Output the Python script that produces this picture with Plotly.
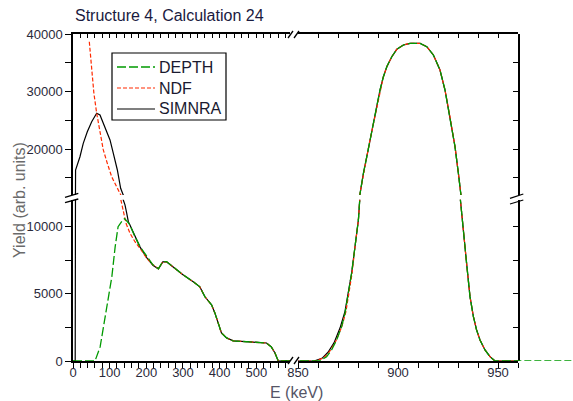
import plotly.graph_objects as go

# ---------------- data ----------------
DEPTH_E = [0, 60, 74, 87, 95, 106, 115, 123, 136, 141, 155, 169, 183, 201, 218, 233, 245, 255, 273, 300,
           328, 346, 360, 378, 387, 396, 405, 419, 437, 482, 528, 541, 551, 560, 592, 850, 861, 864.3, 866.8, 869.3,
           871.8, 873.5, 875.2, 876.8, 878.5, 880.2, 881, 882.7, 884.4, 886, 887.7, 889.4, 891, 892.7, 894.4, 896.9,
           899.4, 902.7, 906, 911, 914.4, 917.7, 921, 923.5, 926, 928.5, 930.2, 931, 931.8, 933, 934.3, 936, 937.7,
           939.3, 941, 943.5, 946, 948.5, 960, 988]
DEPTH_Y = [0, 0, 1050, 3060, 4550, 6270, 8500, 10000, 10500, 10600, 10150, 9250, 8500, 7760, 7160, 6870, 7400, 7400, 7000, 6420,
           5900, 5520, 4780, 4180, 3580, 2840, 2090, 1720, 1500, 1420, 1340, 1050, 600, 0, 0, 0, 0, 320, 820, 1560,
           2550, 3550, 5040, 6530, 8510, 10500, 12300, 15770, 18660, 21570, 24470, 27360, 30260, 32570, 34310, 36050,
           37340, 38090, 38380, 38380, 37790, 36350, 33740, 30260, 25620, 20400, 15770, 12300, 11000, 9500, 7270, 4790, 3300,
           2310, 1560, 820, 320, 0, 0, 0]

NDF_E = [44.5, 51, 57, 64.6, 73.6, 82.7, 93.6, 105.5, 119, 130, 132.8, 139, 144.6, 155.5, 169, 182.8, 201, 218, 233, 245,
         255, 273, 300, 328, 346, 360, 378, 387, 396, 405, 419, 437, 482, 528, 541, 551, 560, 592, 850, 859,
         863, 866, 869, 872, 874, 875.6, 877, 878.5, 880.2, 881, 882.7, 884.4, 886, 887.7, 889.4, 891, 892.7, 894.4,
         896.9, 899.4, 902.7, 906, 911, 914.4, 917.7, 921, 923.5, 926, 928.5, 930.2, 931, 931.8, 933, 934.3, 936,
         937.7, 939.3, 941, 943.5, 946, 948.5, 960]
NDF_Y = [38660, 34310, 29690, 26210, 22730, 19830, 17510, 15180, 13440, 12000, 11740, 11000, 10250, 9510, 8880, 8390, 7650, 7160, 6880, 7380,
         7390, 7010, 6420, 5900, 5520, 4780, 4180, 3580, 2840, 2090, 1720, 1500, 1420, 1340, 1050, 600, 0, 0, 0, 0,
         250, 750, 1500, 2600, 3700, 5050, 6500, 8500, 10500, 12300, 15770, 18660, 21570, 24470, 27360, 30260, 32570, 34310,
         36050, 37340, 38090, 38380, 38380, 37790, 36350, 33740, 30260, 25620, 20400, 15770, 12300, 11000, 9500, 7270, 4790,
         3300, 2310, 1560, 820, 320, 0, 0]

SIM_E = [0, 6, 7, 19, 28, 39, 51, 64.6, 73.6, 87.3, 101, 110, 121, 130, 137, 141.8, 146.5, 151, 155, 169,
         183, 201, 218, 233, 245, 255, 273, 300, 328, 346, 360, 378, 387, 396, 405, 419, 437, 482, 528, 541,
         551, 560, 592, 850, 858, 862, 865, 868, 871, 873.5, 875.2, 876.8, 878.5, 880.2, 881, 882.7, 884.4, 886,
         887.7, 889.4, 891, 892.7, 894.4, 896.9, 899.4, 902.7, 906, 911, 914.4, 917.7, 921, 923.5, 926, 928.5,
         930.2, 931, 931.8, 933, 934.3, 936, 937.7, 939.3, 941, 943.5, 946, 948.5, 960]
SIM_Y = [0, 0, 16350, 18660, 20990, 23010, 24750, 26210, 25910, 23880, 21570, 19250, 16350, 13170, 12000, 11620, 11000, 10370, 10150, 9250,
         8480, 7700, 7120, 6850, 7380, 7390, 7000, 6420, 5900, 5520, 4780, 4180, 3580, 2840, 2090, 1720, 1500, 1420, 1340, 1050,
         600, 0, 0, 0, 0, 200, 650, 1350, 2450, 3700, 5100, 6530, 8510, 10500, 12300, 15770, 18660, 21570,
         24470, 27360, 30260, 32570, 34310, 36050, 37340, 38090, 38380, 38380, 37790, 36350, 33740, 30260, 25620, 20400,
         15770, 12300, 11000, 9500, 7270, 4790, 3300, 2310, 1560, 820, 320, 0, 0]

# tick positions and labels
X_LEFT_TICKS = [0, 20, 40, 60, 80, 100, 120, 140, 160, 180, 200, 220, 240, 260, 280, 300, 320, 340, 360, 380,
                400, 420, 440, 460, 480, 500, 520, 540, 560, 580]
X_LEFT_LABELS = ["0", "", "", "", "", "100", "", "", "", "", "200", "", "", "", "", "300", "", "", "", "",
                 "400", "", "", "", "", "500", "", "", "", ""]
X_RIGHT_TICKS = [850, 860, 870, 880, 890, 900, 910, 920, 930, 940, 950, 960]
X_RIGHT_LABELS = ["850", "", "", "", "", "900", "", "", "", "", "950", ""]
Y_LOW_TICKS = [0, 2500, 5000, 7500, 10000]
Y_LOW_LABELS = ["0", "", "5000", "", "10000"]
Y_UP_TICKS = [15000, 20000, 25000, 30000, 35000, 40000]
Y_UP_LABELS = ["", "20000", "", "30000", "", "40000"]

TITLE = "Structure 4, Calculation 24"
X_LABEL = "E (keV)"
Y_LABEL = "Yield (arb. units)"

# ---------------- geometry helpers ----------------
W, H = 573, 401
def px(x):
    return x / W
def py(y):
    return (H - y) / H

FONT = "Liberation Sans, Arial, sans-serif"
GREEN, RED, BLACK = "#009a00", "#ff2a00", "#000000"

fig = go.Figure()

series = [
    ("SIMNRA", SIM_E, SIM_Y, dict(color=BLACK, width=1.2)),
    ("NDF", NDF_E, NDF_Y, dict(color=RED, width=1.2, dash="4px,2px")),
    ("DEPTH", DEPTH_E, DEPTH_Y, dict(color=GREEN, width=1.3, dash="9px,3px")),
]
panels = [("x", "y"), ("x", "y2"), ("x2", "y"), ("x2", "y2")]
for name, xs, ys, line in series:
    for xa, ya in panels:
        fig.add_trace(go.Scatter(x=xs, y=ys, mode="lines", name=name, line=line,
                                 xaxis=xa, yaxis=ya, showlegend=False, hoverinfo="skip"))
# the DEPTH line continuing past the right frame
fig.add_trace(go.Scatter(x=DEPTH_E, y=DEPTH_Y, mode="lines", name="DEPTH",
                         line=dict(color=GREEN, width=1.3, dash="7px,3px"),
                         xaxis="x5", yaxis="y", showlegend=False, hoverinfo="skip"))
# empty traces so the frame axes (top / right) get their own subplots
for xa, ya in [("x3", "y2"), ("x4", "y2"), ("x2", "y3"), ("x2", "y4")]:
    fig.add_trace(go.Scatter(x=[None], y=[None], xaxis=xa, yaxis=ya, showlegend=False, hoverinfo="skip"))

common = dict(showgrid=False, zeroline=False, showline=True, linecolor="black", linewidth=1.5,
              tickcolor="black", tickwidth=1.2, fixedrange=True, tickmode="array",
              tickfont=dict(family=FONT, size=13, color="#2a2a3a"))

XL = dict(domain=[px(73), px(290)], range=[0, 592])
XR = dict(domain=[px(298), px(518)], range=[850, 960])
YL = dict(domain=[py(361), py(199.8)], range=[0, 12000])
YU = dict(domain=[py(195), py(34)], range=[12000, 40000])

fig.update_layout(
    width=W, height=H,
    margin=dict(l=0, r=0, t=0, b=0, autoexpand=False),
    paper_bgcolor="white", plot_bgcolor="rgba(0,0,0,0)",
    font=dict(family=FONT),
    xaxis=dict(**common, **XL, anchor="y", tickvals=X_LEFT_TICKS, ticktext=X_LEFT_LABELS,
               ticks="outside", ticklen=5, ticklabelstandoff=-6),
    xaxis2=dict(**common, **XR, anchor="y", tickvals=X_RIGHT_TICKS, ticktext=X_RIGHT_LABELS,
                ticks="outside", ticklen=5, ticklabelstandoff=-6),
    xaxis3=dict(**common, **XL, anchor="y2", side="top",
                tickvals=X_LEFT_TICKS, ticks="inside", ticklen=4, showticklabels=False),
    xaxis4=dict(**common, **XR, anchor="y2", side="top",
                tickvals=X_RIGHT_TICKS, ticks="inside", ticklen=4, showticklabels=False),
    xaxis5=dict(domain=[px(518), 1.0], range=[960, 987.5], anchor="y", visible=False, fixedrange=True),
    yaxis=dict(**common, **YL, anchor="x", tickvals=Y_LOW_TICKS, ticktext=Y_LOW_LABELS,
               ticks="outside", ticklen=6),
    yaxis2=dict(**common, **YU, anchor="x", tickvals=Y_UP_TICKS, ticktext=Y_UP_LABELS,
                ticks="outside", ticklen=6),
    yaxis3=dict(**common, **YL, anchor="x2", side="right",
                tickvals=Y_LOW_TICKS, ticks="inside", ticklen=5, showticklabels=False),
    yaxis4=dict(**common, **YU, anchor="x2", side="right",
                tickvals=Y_UP_TICKS, ticks="inside", ticklen=5, showticklabels=False),
    showlegend=False,
    hovermode=False,
)

annots = [
    dict(text=TITLE, x=px(73), y=py(16), xanchor="left", yanchor="middle",
         font=dict(family=FONT, size=16, color="#1a1a40")),
    dict(text=Y_LABEL, x=px(19), y=py(200), textangle=-90, xanchor="center", yanchor="middle",
         font=dict(family=FONT, size=16, color="#6a6a6a")),
    dict(text=X_LABEL, x=px(296), y=py(392), xanchor="center", yanchor="middle",
         font=dict(family=FONT, size=16, color="#555566")),
]

shapes = []
# legend box with samples of each series' line
shapes.append(dict(type="rect", xref="paper", yref="paper", x0=px(112), x1=px(226), y0=py(120), y1=py(53),
                   line=dict(color="black", width=1.2), fillcolor="white", layer="above"))
legend_rows = [("DEPTH", 67), ("NDF", 88), ("SIMNRA", 109)]
styles = {name: line for name, _, _, line in series}
for name, ypix in legend_rows:
    shapes.append(dict(type="line", xref="paper", yref="paper", x0=px(117), x1=px(155),
                       y0=py(ypix), y1=py(ypix), line=styles[name], layer="above"))
    annots.append(dict(text=name, x=px(157), y=py(ypix), xanchor="left", yanchor="middle",
                       font=dict(family=FONT, size=16, color="#1a1a30")))

for a in annots:
    a.update(xref="paper", yref="paper", showarrow=False)
fig.update_layout(annotations=annots)

# axis break marks
brk = [
    (288, 364, 293, 357), (294, 364, 299, 357),      # bottom
    (288, 38, 293, 31), (294, 38, 299, 31),          # top
    (65, 197.3, 78.3, 193.3), (65, 202.7, 78.3, 199), # left
    (510, 198.3, 523.3, 194), (510, 204, 523.3, 200), # right
]
for x0, y0, x1, y1 in brk:
    shapes.append(dict(type="line", xref="paper", yref="paper",
                       x0=px(x0), y0=py(y0), x1=px(x1), y1=py(y1),
                       line=dict(color="black", width=1.3), layer="above"))
fig.update_layout(shapes=shapes)

fig.write_html("out.html")
